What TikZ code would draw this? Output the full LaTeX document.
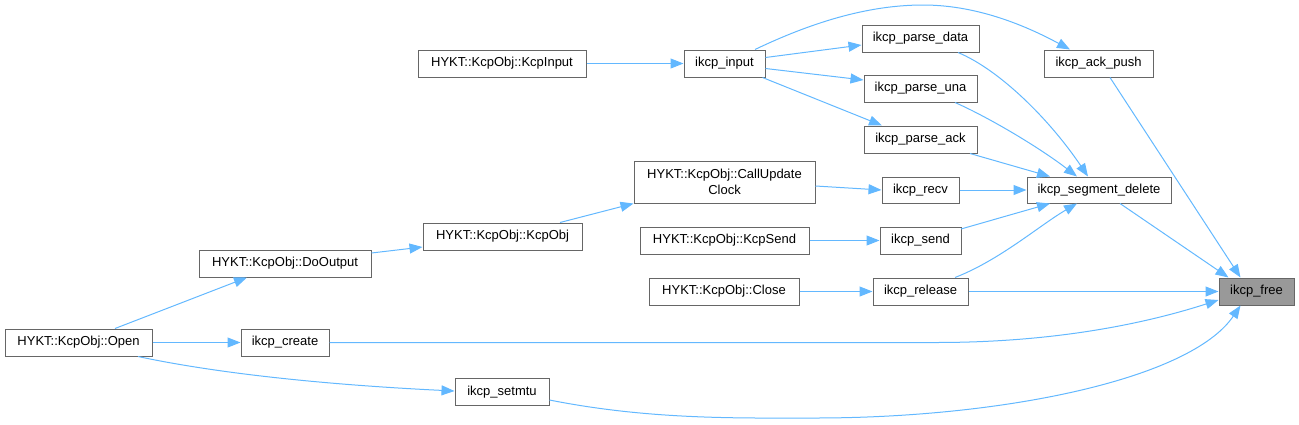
\documentclass[tikz,border=0pt]{standalone}
\usepackage{fontspec}
\setmainfont{Liberation Sans}
\usetikzlibrary{arrows.meta}
\definecolor{edgec}{RGB}{99,184,255}
\definecolor{boxc}{RGB}{102,102,102}
\definecolor{hlfill}{RGB}{153,153,153}
\tikzset{
  fn/.style={draw=boxc, line width=1pt, fill=white, rectangle, inner sep=0pt,
    minimum height=27pt, font=\fontsize{13}{16}\selectfont, align=center},
  hl/.style={fn, fill=hlfill},
  call/.style={draw=edgec, line width=1pt, -{Triangle[length=13pt,width=10pt]}}
}
\begin{document}
\begin{tikzpicture}[x=1pt,y=-1pt]
\useasboundingbox (0,0) rectangle (1299,424);
% nodes
\node[hl, minimum width=75pt]  (free)    at (1256.5,291.5) {ikcp\_free};
\node[fn, minimum width=109pt] (ackpush) at (1098.5,63.5) {ikcp\_ack\_push};
\node[fn, minimum width=144pt, minimum height=26pt] (segdel) at (1099,190) {ikcp\_segment\_delete};
\node[fn, minimum width=117pt] (pdata)   at (920.5,38.5) {ikcp\_parse\_data};
\node[fn, minimum width=113pt] (puna)    at (920.5,88.5) {ikcp\_parse\_una};
\node[fn, minimum width=113pt] (pack)    at (920.5,139.5) {ikcp\_parse\_ack};
\node[fn, minimum width=77pt, minimum height=26pt] (recv) at (920.5,190) {ikcp\_recv};
\node[fn, minimum width=81pt]  (send)    at (920.5,240.5) {ikcp\_send};
\node[fn, minimum width=95pt]  (release) at (920.5,291.5) {ikcp\_release};
\node[fn, minimum width=81pt]  (input)   at (724.5,63.5) {ikcp\_input};
\node[fn, minimum width=168pt] (kcpinput) at (502,63.5) {HYKT::KcpObj::KcpInput};
\node[fn, minimum width=181pt, minimum height=42pt] (cuc) at (724.5,182) {HYKT::KcpObj::CallUpdate\\Clock};
\node[fn, minimum width=169pt] (kcpsend) at (724.5,240.5) {HYKT::KcpObj::KcpSend};
\node[fn, minimum width=150pt] (close)   at (724,291.5) {HYKT::KcpObj::Close};
\node[fn, minimum width=159pt] (kcpobj)  at (502.5,236.5) {HYKT::KcpObj::KcpObj};
\node[fn, minimum width=172pt] (dooutput) at (285,263.5) {HYKT::KcpObj::DoOutput};
\node[fn, minimum width=147pt] (open)    at (78.5,342.5) {HYKT::KcpObj::Open};
\node[fn, minimum width=88pt]  (create)  at (285,342.5) {ikcp\_create};
\node[fn, minimum width=94pt]  (setmtu)  at (502,392) {ikcp\_setmtu};
% edges into ikcp_free
\draw[call] ([xshift=11.5pt]ackpush.south) -- ([xshift=-16pt]free.north);
\draw[call] ([xshift=21pt]segdel.south) -- ([xshift=-28pt]free.north);
\draw[call] (release.east) -- (free.west);
\draw[call] (create.east) -- (936,342.5) .. controls (1060,342.5) and (1150,322) .. ([yshift=-8.5pt]free.west);
\draw[call] ([yshift=-8pt]setmtu.east) .. controls (650,420) and (740,418) .. (815,418)
  .. controls (1000,418) and (1190,380) .. ([xshift=-16pt]free.south);
% edges from ikcp_input
\draw[call] ([xshift=30.5pt]input.north) .. controls (800,28) and (860,5) .. (923,5)
  .. controls (980,5) and (1030,28) .. ([xshift=-28.5pt]ackpush.north);
\draw[call] ([yshift=6pt]input.east) -- ([yshift=-6.5pt]pdata.west);
\draw[call] ([yshift=-5pt]input.east) -- ([yshift=8.5pt]puna.west);
\draw[call] ([xshift=38pt]input.south) -- ([xshift=-38.5pt]pack.north);
% edges into ikcp_segment_delete
\draw[call] ([xshift=37.5pt]pdata.south) .. controls (1000,70) and (1050,120) .. ([xshift=-11pt]segdel.north);
\draw[call] ([xshift=34.5pt]puna.south) .. controls (990,118) and (1040,148) .. ([xshift=-22pt]segdel.north);
\draw[call] ([xshift=49.5pt]pack.south) -- ([xshift=-49pt]segdel.north);
\draw[call] (recv.east) -- (segdel.west);
\draw[call] ([xshift=40.5pt,yshift=11.5pt]send.center) -- ([xshift=-49pt]segdel.south);
\draw[call] ([xshift=34.5pt]release.north) .. controls (1000,260) and (1040,225) .. ([xshift=-22pt]segdel.south);
% left part
\draw[call] (kcpinput.east) -- (input.west);
\draw[call] ([yshift=-4pt]cuc.east) -- (recv.west);
\draw[call] (kcpsend.east) -- (send.west);
\draw[call] (close.east) -- (release.west);
\draw[call] ([xshift=57.5pt]kcpobj.north) -- (cuc.south west);
\draw[call] ([yshift=10.5pt]dooutput.east) -- ([yshift=-10.5pt]kcpobj.west);
\draw[call] ([xshift=36.5pt]open.north) -- ([xshift=-38pt]dooutput.south);
\draw[call] (open.east) -- (create.west);
\draw[call] ([xshift=59.5pt]open.south) .. controls (220,374) and (330,385) .. ([yshift=1pt]setmtu.west);
\end{tikzpicture}
\end{document}
